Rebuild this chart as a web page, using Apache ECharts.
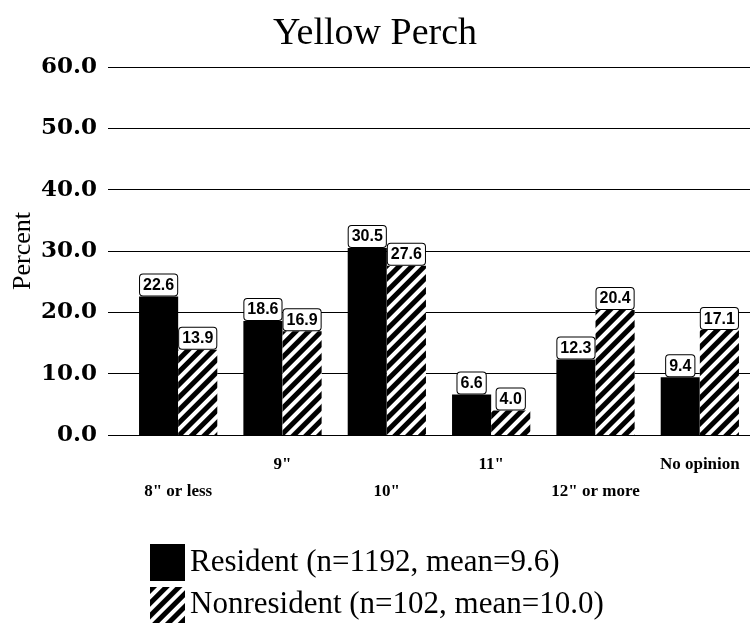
<!DOCTYPE html>
<html>
<head>
<meta charset="utf-8">
<script src="https://cdn.jsdelivr.net/npm/echarts@6/dist/echarts.min.js"></script>
<style>
  html, body { margin: 0; padding: 0; background: #fff; }
  #chart { width: 750px; height: 627px; }
</style>
</head>
<body>
<div id="chart"></div>
<script>
// size categories
const categories = ['8" or less', '9"', '10"', '11"', '12" or more', 'No opinion']
const residentValues = [22.6, 18.6, 30.5, 6.6, 12.3, 9.4]
const nonresidentValues = [13.9, 16.9, 27.6, 4.0, 20.4, 17.1]
const seriesNames = ['Resident (n=1192, mean=9.6)', 'Nonresident (n=102, mean=10.0)']

const times = '"Liberation Serif", "Times New Roman", serif'
const wideSerif = 'DejaVu Serif'
const narrow = '"Liberation Sans Narrow", "Liberation Sans", sans-serif'

const barLabel = {
  show: true,
  position: 'top',
  distance: 1,
  formatter: p => p.value.toFixed(1),
  fontFamily: narrow,
  fontWeight: 'bold',
  fontSize: 16,
  color: '#000',
  backgroundColor: '#fff',
  borderColor: '#000',
  borderWidth: 1,
  borderRadius: 3,
  padding: [3, 3, 2, 3]
}

const legendText = { fontFamily: times, fontSize: 31, color: '#000' }

let myChart = echarts.init(document.getElementById('chart'))
let option = {
  animation: false,
  backgroundColor: '#fff',
  title: {
    text: 'Yellow Perch',
    left: 'center',
    top: 10,
    textStyle: { fontFamily: times, fontWeight: 'normal', fontSize: 38, color: '#000' }
  },
  legend: [
    {
      left: 145, top: 539, itemWidth: 35, itemHeight: 37, icon: 'rect',
      data: [seriesNames[0]], textStyle: legendText, selectedMode: false
    },
    {
      left: 145, top: 582, itemWidth: 35, itemHeight: 36, icon: 'rect',
      data: [seriesNames[1]], textStyle: legendText, selectedMode: false
    }
  ],
  grid: [
    // background grid: y labels + gridlines
    { left: 108, right: 0, top: 67, bottom: 192, outerBoundsMode: 'none' },
    // bars
    { left: 126, width: 626, top: 67, bottom: 192, outerBoundsMode: 'none' }
  ],
  xAxis: [
    { gridIndex: 0, type: 'value', min: 0, max: 1, show: false },
    {
      gridIndex: 1,
      type: 'category',
      data: categories,
      axisLine: { show: false },
      axisTick: { show: false },
      axisLabel: {
        interval: 0,
        margin: 16,
        fontFamily: times,
        fontWeight: 'bold',
        fontSize: 17,
        color: '#000',
        lineHeight: 27,
        formatter: (v, i) => (i % 2 === 0 ? '\n' + v : v)
      }
    }
  ],
  yAxis: [
    {
      gridIndex: 0,
      type: 'value',
      min: 0,
      max: 60,
      interval: 10,
      name: 'Percent',
      nameLocation: 'middle',
      nameGap: 72,
      nameMoveOverlap: false,
      nameTextStyle: { fontFamily: times, fontSize: 26, color: '#000' },
      axisLine: { show: false },
      axisTick: { show: false },
      axisLabel: {
        margin: 11,
        formatter: v => v.toFixed(1),
        fontFamily: wideSerif,
        fontWeight: 'bold',
        fontSize: 23,
        color: '#000'
      },
      splitLine: { lineStyle: { color: '#000', width: 1 } }
    },
    { gridIndex: 1, type: 'value', min: 0, max: 60, interval: 10, show: false }
  ],
  series: [
    {
      name: seriesNames[0],
      type: 'bar',
      xAxisIndex: 1,
      yAxisIndex: 1,
      data: residentValues,
      barGap: '0%',
      barCategoryGap: '25%',
      itemStyle: { color: '#000' },
      label: barLabel
    },
    {
      name: seriesNames[1],
      type: 'bar',
      xAxisIndex: 1,
      yAxisIndex: 1,
      data: nonresidentValues,
      itemStyle: {
        color: '#fff',
        decal: {
          symbol: 'rect',
          symbolSize: 1,
          color: '#000',
          dashArrayX: [1, 0],
          dashArrayY: [5, 4],
          rotation: -Math.PI / 4
        }
      },
      label: barLabel
    }
  ]
}
myChart.setOption(option)
window.addEventListener('resize', function() {
  myChart.resize()
})
</script>
</body>
</html>
